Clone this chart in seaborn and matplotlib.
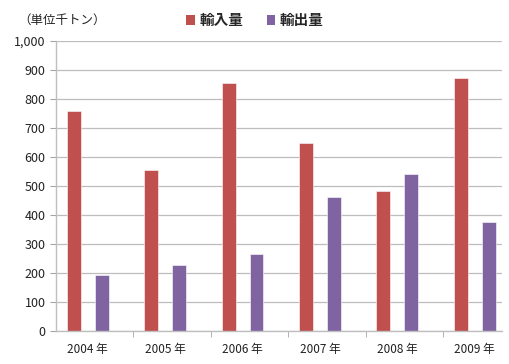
import pandas as pd
import matplotlib
matplotlib.use("Agg")
import matplotlib.pyplot as plt
from matplotlib.ticker import FuncFormatter, FixedLocator
from matplotlib.patches import Patch
import seaborn as sns

# データ（千トン）
years = ["2004 年", "2005 年", "2006 年", "2007 年", "2008 年", "2009 年"]
imports = [758, 555, 856, 647, 483, 871]
exports = [193, 226, 265, 461, 540, 375]
series = ["輸入量", "輸出量"]
colors = ["#C0504D", "#8064A2"]

df = pd.DataFrame({
    "year": years * 2,
    "series": [series[0]] * len(years) + [series[1]] * len(years),
    "value": imports + exports,
})

sns.set_style("white")
plt.rcParams["font.family"] = ["Noto Sans CJK JP", "DejaVu Sans"]

fig = plt.figure(figsize=(5.10, 3.64), dpi=100)
ax = fig.add_axes([0.110, 0.091, 0.874, 0.797])

sns.barplot(data=df, x="year", y="value", hue="series", palette=colors,
            width=0.72, gap=0.5, saturation=1, legend=False, ax=ax)
for p in ax.patches:
    p.set_edgecolor("white")
    p.set_linewidth(0.4)

ax.set_ylim(0, 1000)
ax.set_xlim(-0.41, 5.35)
ax.set_yticks(range(0, 1001, 100))
ax.yaxis.set_major_formatter(FuncFormatter(lambda v, _: f"{int(v):,}"))
ax.yaxis.grid(True, color="#BDBDBD", linewidth=0.9)
ax.set_axisbelow(True)

ax.set_xlabel("")
ax.set_ylabel("")
ax.xaxis.set_minor_locator(FixedLocator([-0.41 + k for k in range(1, 6)]))
ax.tick_params(axis="x", which="major", length=0, pad=9, labelsize=8.5, colors="#222222")
ax.tick_params(axis="x", which="minor", length=4, color="#A6A6A6", bottom=True)
ax.tick_params(axis="y", length=4, color="#A6A6A6", labelsize=9, labelcolor="#222222", left=True)

for s in ["top", "right"]:
    ax.spines[s].set_visible(False)
for s in ["left", "bottom"]:
    ax.spines[s].set_color("#BFBFBF")
    ax.spines[s].set_linewidth(1)

fig.text(0.035, 0.945, "（単位千トン）", fontsize=9, va="center", color="#222222")

handles = [Patch(facecolor=c, edgecolor="none") for c in colors]
fig.legend(handles, series, loc="center", bbox_to_anchor=(0.50, 0.945), ncol=2,
           frameon=False, prop={"size": 10.5, "weight": "bold"},
           handlelength=0.6, handleheight=0.6,
           handletextpad=0.3, columnspacing=1.6)

fig.savefig("out.png", dpi=100)
